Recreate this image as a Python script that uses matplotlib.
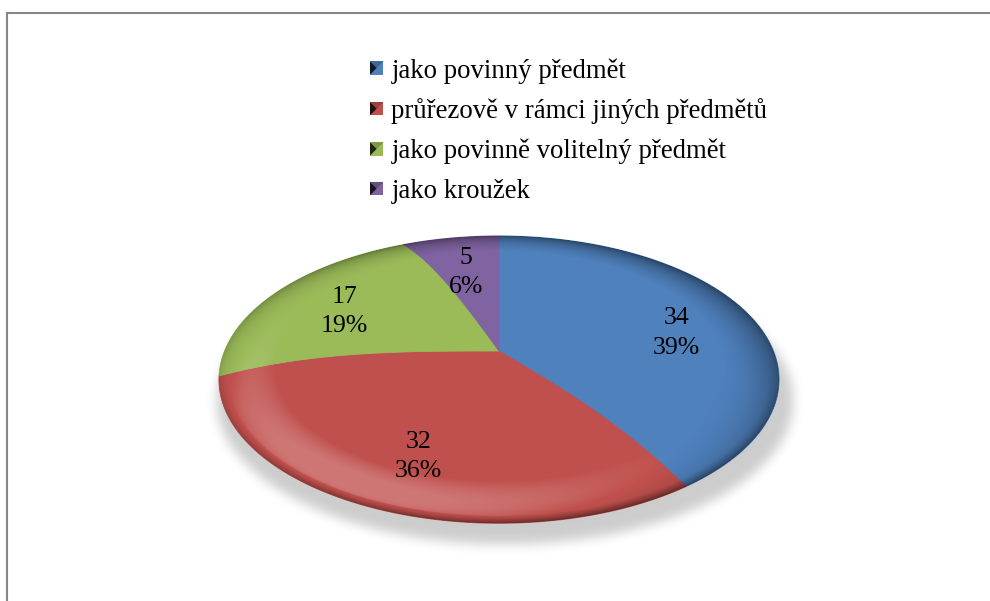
import numpy as np
import matplotlib
matplotlib.use("Agg")
import matplotlib.pyplot as plt
from matplotlib.patches import Polygon, Rectangle
from matplotlib.path import Path
from matplotlib.lines import Line2D
from matplotlib.legend_handler import HandlerBase
from matplotlib.colors import to_rgb

categories = ["jako povinný předmět",
              "průřezově v rámci jiných předmětů",
              "jako povinně volitelný předmět",
              "jako kroužek"]
counts = [34, 32, 17, 5]
colors = ["#4f81bd", "#c0504d", "#9bbb59", "#8064a2"]

plt.rcParams["font.family"] = ["Liberation Serif", "DejaVu Serif"]

W, H = 990, 601
fig = plt.figure(figsize=(9.9, 6.01), dpi=100)

# let pie() work out the wedge angles, then draw them as a tilted disc
tmp = fig.add_axes([0, 0, 0.1, 0.1])
wedges, _ = tmp.pie(counts, startangle=90, counterclock=False)
spans = [(w.theta1, w.theta2) for w in wedges]
fig.delaxes(tmp)

ax = fig.add_axes([0, 0, 1, 1])
ax.set_xlim(0, W)
ax.set_ylim(H, 0)
ax.axis("off")

# disc geometry (pixels): centre, half axes, perspective, domed top
CX, CY = 499, 351
A, B = 280, 143
K = 0.025
DROP = 25


def sag(r):
    return np.clip(r, 0, 1) ** 3


def project(x, y):
    r = np.hypot(x, y)
    d = 1 + K * y
    return CX + A * x / d, CY + (-B * y + DROP * sag(r)) / d


def unproject(X, Y):
    u, w = X - CX, Y - CY
    x, y = u / A, -w / B
    for _ in range(60):
        g = sag(np.hypot(x, y))
        y = (DROP * g - w) / (B + K * w)
        x = u * (1 + K * y) / A
    return x, y


def wedge_outline(t1, t2, n=200):
    rr = np.linspace(0, 1, 40)
    th = np.radians(np.linspace(t1, t2, n))
    a1, a2 = np.radians(t1), np.radians(t2)
    xs = np.concatenate([rr * np.cos(a1), np.cos(th), rr[::-1] * np.cos(a2)])
    ys = np.concatenate([rr * np.sin(a1), np.sin(th), rr[::-1] * np.sin(a2)])
    X, Y = project(xs, ys)
    return np.column_stack([X, Y])


gx, gy = np.meshgrid(np.arange(W) + 0.5, np.arange(H) + 0.5)

# soft drop shadow under the disc
th_all = np.linspace(0, 2 * np.pi, 721)
ox, oy = project(np.cos(th_all), np.sin(th_all))
sx = CX + 6 + (ox - CX) * 1.03
sy = oy + 21
shadow_path = Path(np.column_stack([sx, sy]))
mask = shadow_path.contains_points(np.column_stack([gx.ravel(), gy.ravel()]))
mask = mask.reshape(H, W).astype(float)


def blur1d(a, rad, axis):
    a = np.moveaxis(a, axis, -1)
    p = np.pad(a, [(0, 0)] * (a.ndim - 1) + [(rad + 1, rad)], mode="edge")
    c = np.cumsum(p, axis=-1)
    out = (c[..., 2 * rad + 1:] - c[..., :-2 * rad - 1]) / (2 * rad + 1)
    return np.moveaxis(out, -1, axis)


for _ in range(3):
    mask = blur1d(mask, 5, 0)
    mask = blur1d(mask, 5, 1)
shadow = np.zeros((H, W, 4))
shadow[..., 3] = 0.2 * mask
ax.imshow(shadow, extent=(0, W, H, 0), interpolation="bilinear", zorder=1)

# slices
for (t1, t2), col in zip(spans, colors):
    ax.add_patch(Polygon(wedge_outline(t1, t2), closed=True, facecolor=col,
                         edgecolor=col, linewidth=0.6, zorder=3))

# lighting on the rounded rim, light from the front left
px, py = unproject(gx, gy)
pr = np.hypot(px, py)
pth = np.arctan2(py, px)
phi = np.arcsin(np.clip((pr - 0.8) / 0.2, 0, 1))
Lz, Lh, thL = 0.8, 0.6, np.radians(-125)
S = np.cos(phi) * Lz + np.sin(phi) * Lh * np.cos(pth - thL) - Lz
# thin dark lip along the front edge
lip = np.clip((pr - 0.965) / 0.035, 0, 1) * np.clip(-np.sin(pth), 0, 1)
S = S - 0.9 * lip
cover = np.clip((1 - pr) * 260 + 0.5, 0, 1)
shade = np.zeros((H, W, 4))
lit = S > 0
shade[lit, :3] = 1.0
shade[..., 3] = np.where(lit, np.clip(S * 1.3, 0, 0.22),
                         np.clip(-S * 0.4, 0, 0.55)) * cover
ax.imshow(shade, extent=(0, W, H, 0), interpolation="bilinear", zorder=4)

# data labels: count and share
total = sum(counts)
for (t1, t2), c in zip(spans, counts):
    mid = np.radians((t1 + t2) / 2)
    lx, ly = project(0.68 * np.cos(mid), 0.68 * np.sin(mid))
    ax.text(lx, ly + 8, f"{c}\n{round(100 * c / total)}%", ha="center",
            va="center", fontsize=18.5, linespacing=1.42, zorder=6)


class BevelSquare(HandlerBase):
    def create_artists(self, legend, orig_handle, xdescent, ydescent,
                       width, height, fontsize, trans):
        s = min(width, height)
        x0, y0 = -xdescent, -ydescent + (height - s) / 2
        col = np.array(to_rgb(orig_handle.get_facecolor()))
        base = Rectangle((x0, y0), s, s, facecolor=col, edgecolor="none",
                         transform=trans)
        cx, cy = x0 + s / 2, y0 + s / 2
        top = Polygon([(x0, y0 + s), (x0 + s, y0 + s), (cx, cy)],
                      facecolor=col * 0.8, edgecolor="none", transform=trans)
        left = Polygon([(x0, y0), (x0, y0 + s), (cx, cy)],
                       facecolor=col * 0.2, edgecolor="none", transform=trans)
        return [base, top, left]


handles = [Rectangle((0, 0), 1, 1, facecolor=c) for c in colors]
fig.legend(handles, categories, loc="upper left",
           bbox_to_anchor=(370 / W, 1 - 58 / H), frameon=False, fontsize=19.3,
           handlelength=0.5, handleheight=0.5, handletextpad=0.3,
           labelspacing=0.55, borderpad=0, borderaxespad=0,
           handler_map={Rectangle: BevelSquare()})

# chart area frame
fig.add_artist(Line2D([7 / W, 1], [1 - 13 / H, 1 - 13 / H], color="#878787",
                      linewidth=1.5, transform=fig.transFigure))
fig.add_artist(Line2D([7 / W, 7 / W], [0, 1 - 13 / H], color="#878787",
                      linewidth=1.5, transform=fig.transFigure))

fig.savefig("out.png", dpi=100, facecolor="white")
